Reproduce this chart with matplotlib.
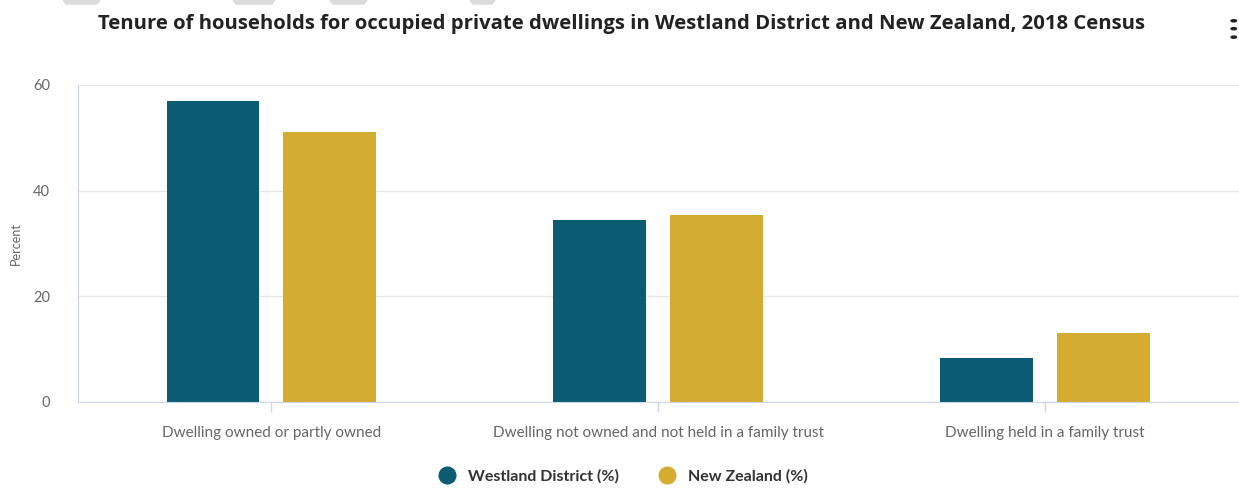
import numpy as np
import matplotlib.pyplot as plt
from matplotlib.lines import Line2D
from matplotlib.patches import Polygon

# Tenure of households, 2018 Census (percent)
categories = [
    "Dwelling owned or partly owned",
    "Dwelling not owned and not held in a family trust",
    "Dwelling held in a family trust",
]
westland = [57.0, 34.4, 8.3]
new_zealand = [51.1, 35.4, 13.1]
series_names = ["Westland District (%)", "New Zealand (%)"]
yticks = [0, 20, 40, 60]

plt.rcParams['font.family'] = ['Lato', 'DejaVu Sans']

colWestland = '#0a5b73'
colNZ = '#d4ac31'
axisCol = '#ccd6eb'

fig = plt.figure(figsize=(12.39, 4.95), dpi=100)
ax = fig.add_axes([0.063, 0.1879, 0.9366, 0.6404])

x = np.arange(len(categories))
width = 0.24
offset = 0.151
ax.bar(x - offset, westland, width, color=colWestland, zorder=3)
ax.bar(x + offset, new_zealand, width, color=colNZ, zorder=3)

ax.set_xlim(-0.5, len(categories) - 0.5)
ax.set_ylim(0, 60)
ax.set_yticks(yticks)
ax.set_xticks(x)
ax.set_xticklabels(categories)
ax.grid(axis='y', color='#e6e6e6', linewidth=1, zorder=0)
ax.set_axisbelow(True)

for side in ['top', 'right']:
    ax.spines[side].set_visible(False)
ax.spines['left'].set_color(axisCol)
ax.spines['bottom'].set_color(axisCol)
ax.spines['left'].set_zorder(4)
ax.spines['bottom'].set_zorder(4)

ax.tick_params(axis='y', length=0, pad=20, labelsize=10.5, labelcolor='#666666')
ax.tick_params(axis='x', length=7, width=1, color=axisCol, pad=10, labelsize=11, labelcolor='#666666')
ax.set_ylabel('Percent', fontsize=9, color='#666666', labelpad=8)

fig.text(0.502, 0.952, 'Tenure of households for occupied private dwellings in Westland District and New Zealand, 2018 Census',
         ha='center', va='center', fontsize=14.6, fontweight='bold', color='#222222',
         family=['Open Sans', 'DejaVu Sans'])

# menu dots
for yy in [0.958, 0.942, 0.925]:
    fig.patches.append(plt.Circle((0.9958, yy), 0.0022, transform=fig.transFigure,
                                  color='#222222', figure=fig))

# faint shapes along the top edge
for x0, x1 in [(63, 100), (233, 275), (330, 367), (470, 495)]:
    pts = [(x0 / 1239, 1.0), (x1 / 1239, 1.0), ((x1 - 3) / 1239, 1 - 4 / 495), ((x0 + 3) / 1239, 1 - 4 / 495)]
    fig.patches.append(Polygon(pts, closed=True, transform=fig.transFigure, color='#dcdcdc', figure=fig))

handles = [Line2D([], [], marker='o', linestyle='none', markersize=12, color=colWestland),
           Line2D([], [], marker='o', linestyle='none', markersize=12, color=colNZ)]
leg = fig.legend(handles, series_names, loc='center', bbox_to_anchor=(0.500, 0.038), ncol=2, frameon=False,
                 handletextpad=0.3, columnspacing=2.0, prop={'size': 11.5, 'weight': 'bold'})
for t in leg.get_texts():
    t.set_color('#333333')

fig.savefig('out.png', dpi=100)
